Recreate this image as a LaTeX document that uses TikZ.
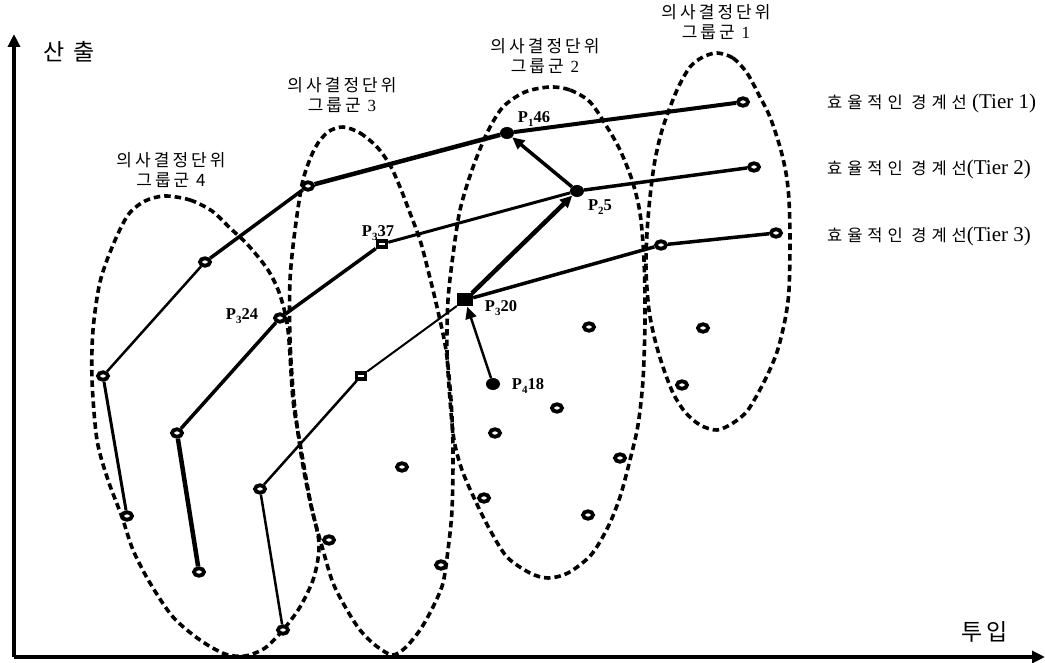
\documentclass[tikz,border=0pt]{standalone}
\usepackage{fontspec}
\setmainfont{Liberation Serif}
\newfontfamily\kr[LetterSpace=18]{Noto Sans CJK KR}
\newfontfamily\krw[LetterSpace=30]{Noto Sans CJK KR}
\usetikzlibrary{shapes.geometric,arrows.meta}
\newcommand{\Psub}[2]{P\raisebox{-3.5pt}{\fontsize{11}{11}\selectfont #1}#2}
\begin{document}
\begin{tikzpicture}[x=1pt,y=-1pt,
  grp/.style={line width=3.6pt,dash pattern=on 6.5pt off 4pt},
  hdot/.style={ellipse,draw,line width=3.8pt,fill=white,minimum width=10pt,minimum height=7.5pt,inner sep=0pt},
  fdot/.style={ellipse,fill=black,minimum width=14pt,minimum height=12pt,inner sep=0pt},
  fsq/.style={rectangle,fill=black,minimum width=16pt,minimum height=13pt,inner sep=0pt},
  hsq/.style={rectangle,draw,line width=3.5pt,fill=white,minimum width=9pt,minimum height=6pt,inner sep=0pt},
  plab/.style={font=\fontsize{16.5}{16.5}\selectfont\bfseries,inner sep=0pt},
  klab/.style={font={\kr\fontsize{17}{19.5}\selectfont},align=center,inner sep=0pt},
  tlab/.style={font=\fontsize{21}{21}\selectfont,anchor=base west,inner sep=0pt},
  alab/.style={font={\kr\fontsize{23}{23}\selectfont},inner sep=0pt},
  arr/.style={-{Triangle[length=12pt,width=11pt]}},
  axis/.style={line width=4pt,-{Triangle[length=13pt,width=12pt]}}
]
\useasboundingbox (0,0) rectangle (1045,663);
% axes
\coordinate (O) at (14,657);
\coordinate (Ytop) at (14,34);
\coordinate (Xend) at (1045,657);
\draw[axis] (O) -- (Ytop);
\draw[axis] (O) -- (Xend);
\node[alab] (ylab) at (69,52) {산\hspace{9pt}출};
\node[alab] (xlab) at (985,632) {투\hspace{4pt}입};
% groups (dashed outlines)
\draw[grp] plot[smooth cycle] coordinates {(165,196) (190,200) (212,211) (230,228) (248,245) (268,270) (280,295) (288,330) (293,400) (300,443) (310,500) (319,543) (314,577) (300,607) (283,630) (265,648) (245,656) (225,654) (200,640) (173,617) (150,583) (133,550) (122,517) (108,480) (97,440) (92,380) (93,330) (100,282) (113,245) (128,215) (145,201)};
\draw[grp] plot[smooth cycle] coordinates {(343,127) (360,133) (377,147) (390,165) (400,187) (410,213) (420,240) (428,270) (437,307) (446,350) (451,400) (453,450) (452,510) (448,550) (443,583) (433,607) (420,630) (405,648) (392,655) (375,645) (360,630) (347,610) (333,583) (323,550) (312,510) (302,460) (294,400) (290,340) (290,280) (295,230) (303,180) (315,148) (328,132)};
\draw[grp] plot[smooth cycle] coordinates {(550,87) (570,90) (590,102) (607,127) (620,150) (632,180) (640,213) (644,260) (645,320) (643,380) (638,425) (630,460) (620,497) (608,527) (591,555) (568,573) (548,578) (530,573) (507,557) (490,530) (475,500) (462,470) (454,440) (450,400) (447,350) (448,300) (453,255) (460,210) (472,170) (487,133) (503,107) (525,92)};
\draw[grp] plot[smooth cycle] coordinates {(717,53) (733,58) (747,73) (760,97) (770,117) (780,147) (786,173) (789,200) (790,240) (789,290) (785,320) (777,352) (765,380) (748,410) (733,423) (717,430) (700,425) (685,412) (673,393) (663,367) (655,340) (649,310) (646,270) (647,233) (650,197) (655,160) (663,127) (677,90) (690,67) (703,57)};
% group labels
\node[klab] (g4) at (171,170) {의사결정단위\\그룹군 4};
\node[klab] (g3) at (342,95) {의사결정단위\\그룹군 {\rmfamily 3}};
\node[klab] (g2) at (545,56) {의사결정단위\\그룹군 {\rmfamily 2}};
\node[klab] (g1) at (716,22) {의사결정단위\\그룹군 {\rmfamily 1}};
% tier labels
\node[tlab] (l1) at (827,109) {{\krw\fontsize{16.5}{16.5}\selectfont 효율적인 경계선} (Tier 1)};
\node[tlab] (l2) at (827,175) {{\krw\fontsize{16.5}{16.5}\selectfont 효율적인 경계선}(Tier 2)};
\node[tlab] (l3) at (827,242) {{\krw\fontsize{16.5}{16.5}\selectfont 효율적인 경계선}(Tier 3)};
% points
\node[hdot] (t1a) at (103,376) {};
\node[hdot] (t1b) at (205,262) {};
\node[hdot] (t1c) at (308,186) {};
\node[fdot] (t1d) at (507,133) {};
\node[hdot] (t1e) at (743,102) {};
\node[hdot] (t1x) at (127,516) {};
\node[hdot] (t2a) at (177,433) {};
\node[hdot] (t2b) at (280,318) {};
\node[hsq]  (t2c) at (382,244) {};
\node[fdot] (t2d) at (577,191) {};
\node[hdot] (t2e) at (754,167) {};
\node[hdot] (t2x) at (199,572) {};
\node[hdot] (t3a) at (260,489) {};
\node[hsq]  (t3b) at (361,376) {};
\node[fsq]  (t3c) at (465,300) {};
\node[hdot] (t3d) at (661,245) {};
\node[hdot] (t3e) at (776,233) {};
\node[hdot] (t3x) at (283,630) {};
\node[fdot] (p4) at (493,384) {};
\node[hdot] (s1) at (402,467) {};
\node[hdot] (s2) at (329,540) {};
\node[hdot] (s3) at (441,565) {};
\node[hdot] (s4) at (484,498) {};
\node[hdot] (s5) at (495,433) {};
\node[hdot] (s6) at (557,408) {};
\node[hdot] (s7) at (589,327) {};
\node[hdot] (s8) at (620,458) {};
\node[hdot] (s9) at (588,515) {};
\node[hdot] (s10) at (682,385) {};
\node[hdot] (s11) at (703,328) {};
% frontier lines
\draw[line width=2.5pt] (t1a) -- (t1b);
\draw[line width=3.5pt] (t1b) -- (t1c);
\draw[line width=4.5pt] (t1c) -- (t1d);
\draw[line width=4pt] (t1d) -- (t1e);
\draw[line width=3pt] (t1a) -- (t1x);
\draw[line width=3.5pt] (t2a) -- (t2b);
\draw[line width=3.5pt] (t2b) -- (t2c);
\draw[line width=3pt] (t2c) -- (t2d);
\draw[line width=3.5pt] (t2d) -- (t2e);
\draw[line width=4.5pt] (t2a) -- (t2x);
\draw[line width=2.5pt] (t3a) -- (t3b);
\draw[line width=2pt] (t3b) -- (t3c);
\draw[line width=3.5pt] (t3c) -- (t3d);
\draw[line width=3.5pt] (t3d) -- (t3e);
\draw[line width=2.5pt] (t3a) -- (t3x);
% arrows
\draw[arr,line width=2.5pt] (p4) -- (t3c);
\draw[arr,line width=4.5pt] (t3c) -- (t2d);
\draw[arr,line width=3.5pt] (t2d) -- (t1d);
% point labels
\node[plab] (lp146) at (534,119) {\Psub{1}{46}};
\node[plab] (lp25) at (600,207) {\Psub{2}{5}};
\node[plab] (lp337) at (378,233) {\Psub{3}{37}};
\node[plab] (lp324) at (242,316) {\Psub{3}{24}};
\node[plab] (lp320) at (501,308) {\Psub{3}{20}};
\node[plab] (lp418) at (528,386) {\Psub{4}{18}};
\end{tikzpicture}
\end{document}
